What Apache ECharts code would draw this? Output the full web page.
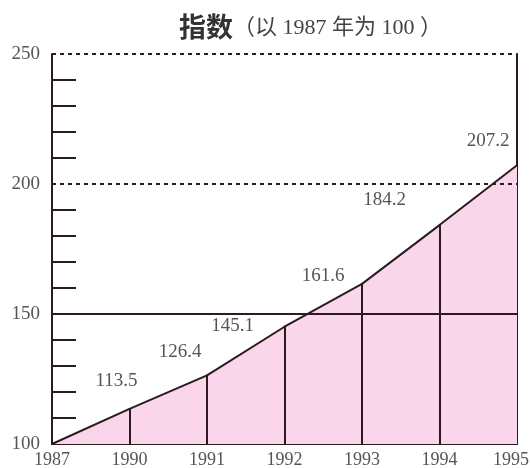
<!DOCTYPE html>
<html><head><meta charset="utf-8">
<script src="https://cdn.jsdelivr.net/npm/echarts@6/dist/echarts.min.js"></script>
<style>html,body{margin:0;padding:0;background:#fff}#c{width:531px;height:468px}</style>
</head><body><div id="c"></div>
<script>
const categories = ['1987', '1990', '1991', '1992', '1993', '1994', '1995'];
const indexValues = [100, 113.5, 126.4, 145.1, 161.6, 184.2, 207.2];
const yTicks = [100, 150, 200, 250];
const titleMain = '指数';
const titleSub = '（以 1987 年为 100 ）';

const ink = '#2b1b20';
const txt = '#555';
const serif = '"Liberation Serif","DejaVu Serif",serif';
const labelOffsets = [[0,0],[-13,-28],[-27,-23],[-52,-1],[-39,-8],[-55,-25],[-29,-24]];

const chart = echarts.init(document.getElementById('c'));
chart.setOption({
  animation: false,
  title: {
    text: '{a|' + titleMain + '}{b|' + titleSub + '}',
    left: 174, top: 8,
    textStyle: {
      rich: {
        a: {fontSize: 27, fontWeight: 'bold', color: '#333', fontFamily: '"Noto Sans CJK SC",sans-serif'},
        b: {fontSize: 22, fontWeight: 'normal', color: '#444', fontFamily: '"Liberation Serif","Noto Sans CJK SC",serif', padding: [3,0,0,0]}
      }
    }
  },
  grid: {left: 52, right: 14, top: 54, bottom: 24, outerBoundsMode: 'none', containLabel: false},
  xAxis: {
    type: 'category', data: categories, boundaryGap: false,
    axisLine: {show: true, lineStyle: {color: ink, width: 2}},
    axisTick: {show: false},
    axisLabel: {color: txt, fontSize: 18, fontFamily: serif, margin: 7, interval: 0, hideOverlap: false,
      formatter: (v, i) => i === categories.length - 1 ? '{r|' + v + '}' : v,
      rich: {r: {color: txt, fontSize: 18, fontFamily: serif, padding: [0, 12, 0, 0]}}},
    splitLine: {show: false}
  },
  yAxis: [{
    type: 'value', min: yTicks[0], max: yTicks[yTicks.length - 1], interval: 50,
    axisLine: {show: true, lineStyle: {color: ink, width: 2}},
    axisTick: {show: false, inside: true},
    minorTick: {show: true, splitNumber: 5, length: 24, lineStyle: {color: ink, width: 2}},
    axisLabel: {color: txt, fontSize: 19, fontFamily: serif, margin: 12,
      formatter: v => yTicks.indexOf(v) >= 0 ? String(v) : ''},
    splitLine: {show: false}
  }, {
    type: 'value', min: yTicks[0], max: yTicks[yTicks.length - 1], position: 'right',
    axisLine: {show: true, lineStyle: {color: ink, width: 2}},
    axisTick: {show: false}, axisLabel: {show: false}, splitLine: {show: false}
  }],
  series: [{
    type: 'line', data: indexValues,
    symbol: 'circle', symbolSize: 2,
    itemStyle: {color: ink},
    lineStyle: {color: ink, width: 2},
    areaStyle: {color: '#fad6ea', origin: 'start', opacity: 1},
    label: {
      show: true, position: 'inside', color: txt, fontSize: 19, fontFamily: serif,
      formatter: p => p.dataIndex === 0 ? '' : String(p.value)
    },
    labelLayout: p => ({dx: labelOffsets[p.dataIndex][0], dy: labelOffsets[p.dataIndex][1]}),
    markLine: {
      silent: true, symbol: 'none', label: {show: false},
      data: [
        {yAxis: 150, lineStyle: {color: ink, width: 2, type: 'solid'}},
        {yAxis: 200, lineStyle: {color: ink, width: 2, type: [4, 4]}},
        {yAxis: 250, lineStyle: {color: ink, width: 2, type: [4, 4]}}
      ].concat(indexValues.slice(1, -1).map((v, i) => [
        {coord: [categories[i + 1], yTicks[0]], lineStyle: {color: ink, width: 2, type: 'solid'}},
        {coord: [categories[i + 1], v]}
      ]))
    },
    z: 3
  }]
});
</script></body></html>
